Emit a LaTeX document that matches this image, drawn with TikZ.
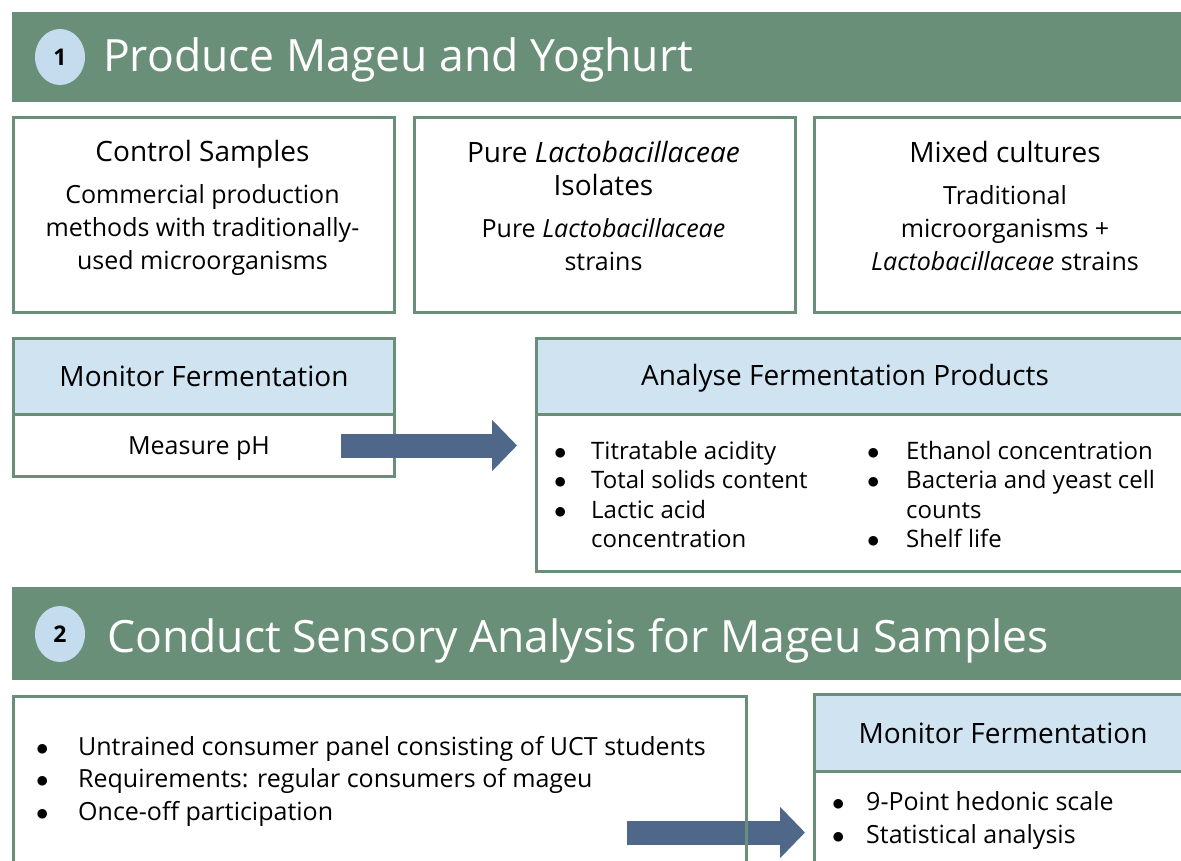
\documentclass[tikz,border=0pt]{standalone}
\usepackage{fontspec}
\setmainfont{Open Sans}
\usetikzlibrary{calc, positioning, arrows.meta, shapes.geometric}

\definecolor{sage}{RGB}{106,143,120}
\definecolor{headblue}{RGB}{208,227,241}
\definecolor{badgeblue}{RGB}{196,220,238}
\definecolor{arrowblue}{RGB}{79,103,136}

\newcommand{\bul}[1][37pt]{\makebox[#1][l]{$\bullet$}}

\begin{document}
\begin{tikzpicture}[x=1pt, y=-1pt,
    panel/.style={draw=sage, line width=3pt, fill=white, anchor=north west, inner sep=0pt},
    headbox/.style={panel, fill=headblue},
    banner/.style={fill=sage, anchor=north west, inner sep=0pt},
    badge/.style={ellipse, fill=badgeblue, minimum width=50pt, minimum height=56pt, inner sep=0pt, font=\fontsize{23}{28}\bfseries},
    title/.style={text=white, anchor=base west, inner sep=0pt, font=\fontsize{44.5}{52}\selectfont},
    headtxt/.style={align=center, inner sep=0pt, font=\fontsize{28}{33}\selectfont},
    bodytxt/.style={align=center, inner sep=0pt, font=\fontsize{25}{33}\selectfont},
    listtxt/.style={align=left, anchor=north west, inner sep=0pt},
    bigarrow/.style={draw=arrowblue, line width=24pt, -{Triangle[length=25pt,width=50pt]}}]
  \fill[white] (0,0) rectangle (1181,861);
  \useasboundingbox (0,0) rectangle (1181,861);
  \clip (0,0) rectangle (1181,861);

  % step 1
  \node[banner, minimum width=1200pt, minimum height=90pt] (bar1) at (12,12) {};
  \node[badge] (num1) at (60,57) {1};
  \node[title] (title1) at (103,72) {Produce Mageu and Yoghurt};

  \node[panel, minimum width=381pt, minimum height=195pt] (ctrl) at (12,116) {};
  \node[panel, minimum width=381pt, minimum height=195pt] (pure) at (413,116) {};
  \node[panel, minimum width=390pt, minimum height=195pt] (mixed) at (813,116) {};
  \node[headtxt] (ctrlhead) at (202.5,154) {Control Samples};
  \node[bodytxt] (ctrlbody) at (202.5,230) {Commercial production\\methods with traditionally-\\used microorganisms};
  \node[headtxt] (purehead) at (603.5,169) {Pure \textit{Lactobacillaceae}\\Isolates};
  \node[bodytxt] (purebody) at (603.5,245) {Pure \textit{Lactobacillaceae}\\strains};
  \node[headtxt] (mixedhead) at (1005,152) {Mixed cultures};
  \node[bodytxt] (mixedbody) at (1005,228) {Traditional\\microorganisms +\\\textit{Lactobacillaceae} strains};

  \node[panel, minimum width=381pt, minimum height=62pt] (monbody) at (12,413) {};
  \node[headbox, minimum width=381pt, minimum height=76pt] (monhead) at (12,337) {};
  \node[headtxt] (montitle) at (monhead.center) {Monitor Fermentation};
  \node[bodytxt] (phtxt) at ($(monbody.center)+(-5,3)$) {Measure pH};

  \node[panel, minimum width=660pt, minimum height=157pt] (anabody) at (535,413) {};
  \node[headbox, minimum width=660pt, minimum height=76pt] (anahead) at (535,337) {};
  \node[headtxt] (anatitle) at (845,378) {Analyse Fermentation Products};
  \node[listtxt, font=\fontsize{24}{29.5}\selectfont] (analist1) at (554,441)
    {\bul Titratable acidity\\\bul Total solids content\\\bul Lactic acid\\\hspace*{37pt}concentration};
  \node[listtxt, font=\fontsize{24}{29.5}\selectfont] (analist2) at (867,441)
    {\bul[39pt]Ethanol concentration\\\bul[39pt]Bacteria and yeast cell\\\hspace*{39pt}counts\\\bul[39pt]Shelf life};

  \draw[bigarrow] ($(monbody.east)+(-55,0)$) -- ($(monbody.east -| anabody.west)+(-18,0)$);

  % step 2
  \node[banner, minimum width=1200pt, minimum height=93pt] (bar2) at (12,587) {};
  \node[badge] (num2) at (60,634) {2};
  \node[title] (title2) at (107,652) {Conduct Sensory Analysis for Mageu Samples};

  \coordinate (arrtail) at (627,832.5);
  \node[panel, minimum width=390pt, minimum height=120pt] (evalbody) at (813,770) {};
  \node[headbox, minimum width=390pt, minimum height=77pt] (evalhead) at (813,693) {};
  \node[headtxt] (evaltitle) at (1003,733) {Monitor Fermentation};
  \node[listtxt, font=\fontsize{25}{33}\selectfont] (evallist) at (832,791)
    {\bul[34pt]9-Point hedonic scale\\\bul[34pt]Statistical analysis};

  \draw[bigarrow] (arrtail) -- ($(arrtail -| evalbody.west)+(-8,0)$);
  \node[panel, fill=none, minimum width=733pt, minimum height=200pt] (panelbox) at (12,695) {};
  \node[listtxt, font=\fontsize{25}{32.5}\selectfont] (panellist) at (36,736)
    {\bul[42pt]Untrained consumer panel consisting of UCT students\\\bul[42pt]Requirements: regular consumers of mageu\\\bul[42pt]Once-off participation};
\end{tikzpicture}
\end{document}
